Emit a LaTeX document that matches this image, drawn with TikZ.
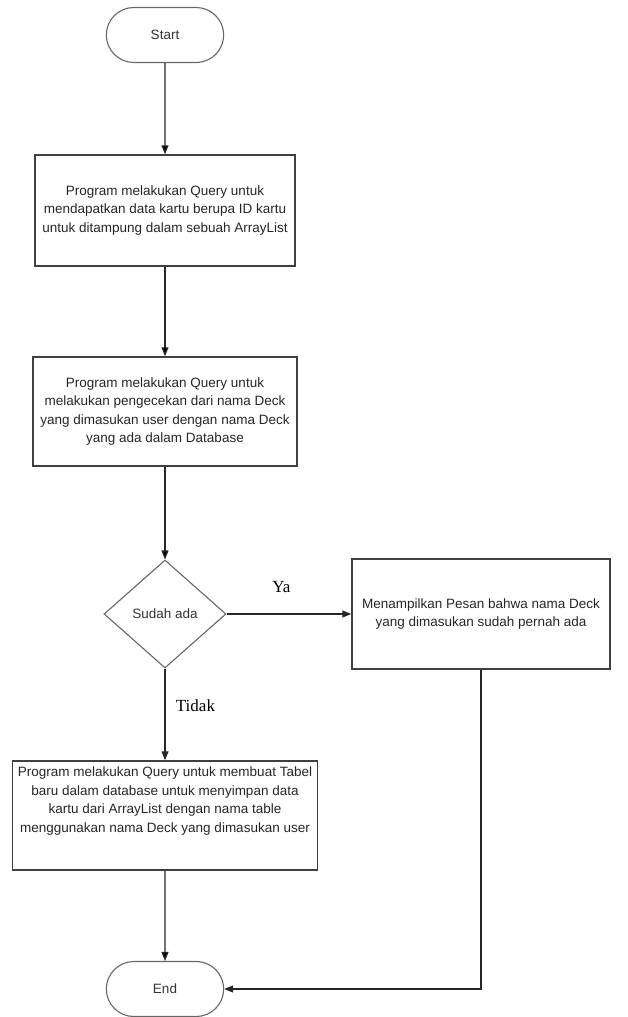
\documentclass[tikz,border=0pt]{standalone}
\usepackage{fontspec}
\setmainfont{Liberation Sans}
\newfontfamily\labelfont{Liberation Serif}
\usetikzlibrary{arrows.meta,positioning,shapes.geometric,shapes.misc}

\begin{document}
\begin{tikzpicture}[x=1pt,y=1pt,node distance=2cm,on grid,>={Triangle[length=9pt,width=7pt]}]
       \tikzstyle{terminal}=[draw=black!60, line width=1.1pt, rounded rectangle, minimum width=124pt, minimum height=55pt, text=black!80, font=\fontsize{13.5}{16}\selectfont]
       \tikzstyle{process}=[draw=black!75, line width=1.5pt, rectangle, align=center, text=black!85, font=\fontsize{13.5}{18.5}\selectfont]
       \tikzstyle{decision}=[draw=black!60, line width=1.1pt, diamond, inner sep=0pt, minimum width=122pt, minimum height=108pt, text=black!80, font=\fontsize{13.5}{16}\selectfont]
       \tikzstyle{flow}=[draw=black!85, line width=1.2pt, ->]
       \tikzstyle{answer}=[text=black, font=\labelfont\fontsize{17}{20}\selectfont]

       \useasboundingbox (0,0) rectangle (627,-1017);

       \node[terminal] (start) at (165,-35) {Start};
       \node[process, minimum width=260pt, minimum height=111pt] (cards) [below=175.5pt of start]
         {Program melakukan Query untuk\\mendapatkan data kartu berupa ID kartu\\untuk ditampung dalam sebuah ArrayList};
       \node[process, minimum width=264pt, minimum height=109pt] (check) [below=201pt of cards]
         {Program melakukan Query untuk\\melakukan pengecekan dari nama Deck\\yang dimasukan user dengan nama Deck\\yang ada dalam Database};
       \node[decision] (exists) [below=202.5pt of check] {Sudah ada};
       \node[process, minimum width=258pt, minimum height=110pt] (message) [right=316pt of exists]
         {Menampilkan Pesan bahwa nama Deck\\yang dimasukan sudah pernah ada};
       \node[process, minimum width=305pt, minimum height=109pt] (create) [below=201.5pt of exists]
         {Program melakukan Query untuk membuat Tabel\\baru dalam database untuk menyimpan data\\kartu dari ArrayList dengan nama table\\menggunakan nama Deck yang dimasukan user\\[13pt]~};
       \node[terminal] (end) [below=173.5pt of create] {End};

       \path[flow]
       (start) edge (cards)
       (cards) edge (check)
       (check) edge (exists)
       (create) edge (end);

       \draw[flow] (exists) -- node[answer, pos=0.44, above=17pt] {Ya} (message);
       \draw[flow] (exists) -- node[answer, pos=0.4, right=7pt] {Tidak} (create);
       \draw[flow] (message) |- (end);
     \end{tikzpicture}
\end{document}
